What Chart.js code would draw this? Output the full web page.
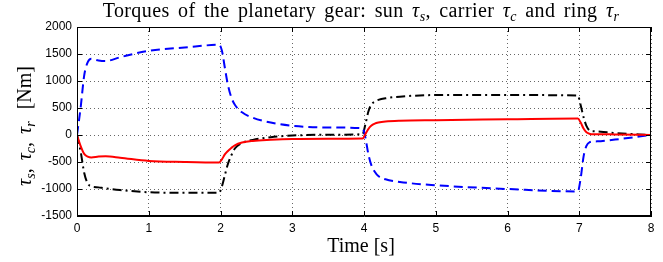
<!DOCTYPE html>
<html>
<head>
<meta charset="utf-8">
<script src="https://cdn.jsdelivr.net/npm/chart.js@4.4.0/dist/chart.umd.min.js"></script>
<style>
  html, body { margin: 0; padding: 0; background: #fff; }
  #wrap { width: 663px; height: 262px; }
</style>
</head>
<body>
<div id="wrap"><canvas id="chart" width="663" height="262"></canvas></div>
<script>
// time samples [s]
const time = [0, 0.05, 0.1, 0.15, 0.2, 0.3, 0.4, 0.6, 1.0, 1.5, 1.98, 2.02, 2.06, 2.1, 2.15, 2.2, 2.3, 2.45, 2.7, 3.0,
  3.5, 3.98, 4.02, 4.06, 4.1, 4.15, 4.2, 4.3, 4.5, 5.0, 6.0, 6.98, 7.02, 7.06, 7.1, 7.15, 7.2, 7.3, 7.5, 8.0];

// sun torque tau_s [Nm] (red, solid)
const sunTorque = [0, -200, -350, -400, -415, -400, -395, -420, -480, -500, -510, -450, -360, -300, -240, -190, -140, -110, -90, -75,
  -70, -65, 20, 110, 170, 210, 230, 250, 265, 275, 290, 305, 230, 120, 50, 20, 15, 15, 10, 0];

// carrier torque tau_c [Nm] (blue, dashed)
const carrierTorque = [0, 500, 1100, 1350, 1410, 1380, 1370, 1440, 1560, 1620, 1670, 1560, 1250, 950, 700, 560, 420, 320, 230, 170,
  140, 125, -50, -350, -550, -680, -760, -820, -870, -930, -1000, -1045, -800, -400, -200, -130, -120, -115, -85, 0];

// ring torque tau_r [Nm] (black, dash-dot)
const ringTorque = [0, -300, -700, -900, -950, -970, -990, -1020, -1060, -1070, -1070, -950, -750, -550, -380, -250, -150, -90, -40, -10,
  5, 15, 200, 430, 560, 620, 650, 680, 710, 740, 740, 730, 550, 330, 170, 80, 70, 60, 35, 0];

const xTicks = [0, 1, 2, 3, 4, 5, 6, 7, 8];
const yTicks = [-1500, -1000, -500, 0, 500, 1000, 1500, 2000];

const SERIF = '"Liberation Serif", "Times New Roman", serif';
const SANS = '"Liberation Sans", Arial, sans-serif';

const toPoints = vals => vals.map((v, i) => ({ x: time[i], y: v }));

// text with italic tau and subscripts, drawn on the canvas, centred on x
function drawRich(ctx, parts, x, y, size) {
  const fontOf = p => (p.it ? 'italic ' : '') + (p.sub ? Math.round(size * 0.7) : size) + 'px ' + SERIF;
  const widthOf = p => { ctx.font = fontOf(p); return ctx.measureText(p.t).width + (p.gap || 0); };
  const total = parts.reduce((s, p) => s + widthOf(p), 0);
  let cx = x - total / 2;
  ctx.textAlign = 'left';
  ctx.textBaseline = 'alphabetic';
  parts.forEach(p => {
    ctx.font = fontOf(p);
    ctx.fillText(p.t, cx, y + (p.sub ? size * 0.22 : 0));
    cx += widthOf(p);
  });
}

const titleParts = [
  { t: 'Torques of the planetary gear: sun ' }, { t: 'τ', it: true }, { t: 's', it: true, sub: true },
  { t: ', carrier ' }, { t: 'τ', it: true }, { t: 'c', it: true, sub: true },
  { t: ' and ring ' }, { t: 'τ', it: true }, { t: 'r', it: true, sub: true },
];
const yLabelParts = [
  { t: 'τ', it: true }, { t: 's', it: true, sub: true }, { t: ',', gap: 8 },
  { t: 'τ', it: true }, { t: 'c', it: true, sub: true }, { t: ',', gap: 8 },
  { t: 'τ', it: true }, { t: 'r', it: true, sub: true }, { t: '[Nm]', gap: 0 },
];
yLabelParts[7].gap = 12;

const frame = {
  id: 'frame',
  afterDraw(chart) {
    const { ctx, chartArea: a, scales } = chart;
    ctx.save();
    ctx.strokeStyle = '#000';
    ctx.lineWidth = 1;
    ctx.strokeRect(a.left + 0.5, a.top + 0.5, a.right - a.left - 1, a.bottom - a.top - 1);
    ctx.beginPath();
    xTicks.forEach(v => {
      const px = Math.round(scales.x.getPixelForValue(v)) + 0.5;
      ctx.moveTo(px, a.bottom); ctx.lineTo(px, a.bottom - 5);
      ctx.moveTo(px, a.top); ctx.lineTo(px, a.top + 5);
    });
    yTicks.forEach(v => {
      const py = Math.round(scales.y.getPixelForValue(v)) + 0.5;
      ctx.moveTo(a.left, py); ctx.lineTo(a.left + 5, py);
      ctx.moveTo(a.right, py); ctx.lineTo(a.right - 5, py);
    });
    ctx.stroke();

    ctx.fillStyle = '#000';
    ctx.save();
    ctx.wordSpacing = '3px';
    ctx.letterSpacing = '0.4px';
    drawRich(ctx, titleParts, 361, 17, 20);
    ctx.restore();
    ctx.textAlign = 'center';
    ctx.font = '20px ' + SERIF;
    ctx.fillText('Time [s]', 361, 252);
    ctx.translate(31, 126);
    ctx.rotate(-Math.PI / 2);
    drawRich(ctx, yLabelParts, 0, 0, 20);
    ctx.restore();
  }
};

const gridStyle = {
  color: '#666',
  lineWidth: 1,
  tickLength: 0,
  drawTicks: false,
};

new Chart(document.getElementById('chart'), {
  type: 'line',
  data: {
    datasets: [
      { label: 'sun', data: toPoints(sunTorque), borderColor: '#ff0000', borderWidth: 2 },
      { label: 'carrier', data: toPoints(carrierTorque), borderColor: '#0000ff', borderWidth: 2, borderDash: [9, 5] },
      { label: 'ring', data: toPoints(ringTorque), borderColor: '#000000', borderWidth: 2, borderDash: [9, 4, 2, 4] },
    ],
  },
  options: {
    responsive: false,
    animation: false,
    parsing: false,
    elements: { point: { radius: 0 }, line: { cubicInterpolationMode: 'monotone', fill: false } },
    layout: { padding: { left: 0, right: 12, top: 27, bottom: 0 } },
    plugins: { legend: { display: false }, tooltip: { enabled: false } },
    scales: {
      x: {
        type: 'linear', min: 0, max: 8,
        afterBuildTicks: s => { s.ticks = xTicks.map(v => ({ value: v })); },
        afterFit: s => { s.height = 46; },
        grid: gridStyle,
        border: { display: true, color: '#000', width: 1, dash: [1, 3] },
        ticks: { font: { family: SANS, size: 12 }, color: '#000', padding: 5, maxRotation: 0, callback: v => String(v) },
      },
      y: {
        min: -1500, max: 2000,
        afterBuildTicks: s => { s.ticks = yTicks.map(v => ({ value: v })); },
        afterFit: s => { s.width = 77; },
        grid: gridStyle,
        border: { display: true, color: '#000', width: 1, dash: [1, 3] },
        ticks: { font: { family: SANS, size: 12 }, color: '#000', padding: 5, callback: v => String(v) },
      },
    },
  },
  plugins: [frame],
});
</script>
</body>
</html>
